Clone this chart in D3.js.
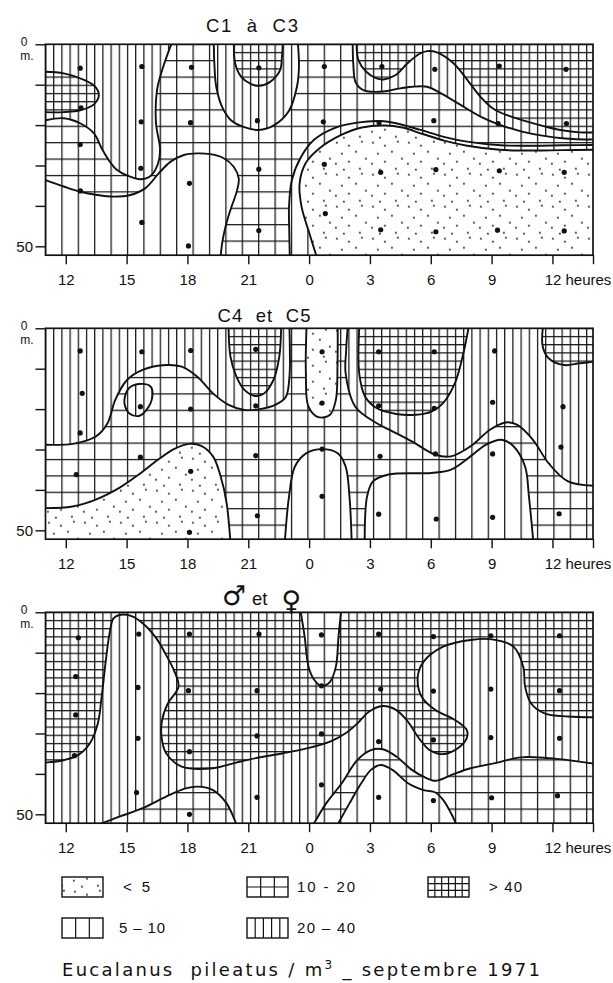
<!DOCTYPE html>
<html>
<head>
<meta charset="utf-8">
<script src="https://cdn.jsdelivr.net/npm/d3@7"></script>
<style>
  html, body { margin: 0; padding: 0; background: #fff; }
  svg { display: block; }
  text { font-family: "Liberation Sans", Arial, sans-serif; fill: #111; }
</style>
</head>
<body>
<svg id="chart" width="613" height="983"></svg>
<script>
// ---- axes -------------------------------------------------------------
// time is counted in continuous hours: 12 = noon, 24 = midnight, 36 = noon next day
const hourTicks  = [12, 15, 18, 21, 24, 27, 30, 33, 36, 38];
const hourLabels = ["12", "15", "18", "21", "0", "3", "6", "9", "12 heures", ""];
const depthTicks = [0, 10, 20, 30, 40, 50];

// ---- density classes (individus / m3) -----------------------------------
// 0: < 5, 1: 5-10, 2: 10-20, 3: 20-40, 4: > 40
const classLabels = ["< 5", "5 – 10", "10 - 20", "20 – 40", "> 40"];
const panelTitles = ["C1  à  C3", "C4  et  C5", "♂ et ♀"];
const chartTitle  = "Eucalanus  pileatus / m";

// ---- sampling points [hour, depth m] ------------------------------------
const samplesC1C3 = [
  [12.71, 5.9], [12.75, 15.7], [12.71, 24.8], [12.72, 36.3],
  [15.75, 5.5], [15.72, 19.2], [15.7, 30.7], [15.75, 44.1],
  [18.2, 5.7], [18.15, 19.4], [18.1, 34.4], [18.05, 49.9],
  [21.52, 5.8], [21.45, 18.9], [21.52, 30.9], [21.52, 46.1],
  [24.75, 5.5], [24.7, 19.2], [24.75, 29.7], [24.8, 41.9],
  [27.59, 5.5], [27.45, 19.4], [27.53, 31.7], [27.53, 45.9],
  [30.2, 6.2], [30.15, 18.9], [30.25, 31.0], [30.25, 46.4],
  [33.38, 5.4], [33.32, 19.6], [33.38, 31.3], [33.29, 46.0],
  [36.67, 6.2], [36.69, 19.6], [36.58, 31.7], [36.58, 46.2]
];
const samplesC4C5 = [
  [12.71, 5.6], [12.81, 16.1], [12.71, 25.9], [12.52, 36.2],
  [15.75, 5.8], [15.68, 19.4], [15.68, 31.9],
  [18.16, 5.5], [18.16, 20.0], [18.16, 35.4], [18.1, 50.5],
  [21.37, 5.2], [21.37, 19.2], [21.37, 31.5], [21.45, 46.4],
  [24.64, 5.8], [24.64, 18.5], [24.64, 29.9], [24.64, 41.6],
  [27.43, 5.8], [27.43, 19.2], [27.5, 31.7], [27.43, 46.0],
  [30.17, 5.8], [30.17, 19.8], [30.23, 31.1], [30.27, 47.2],
  [33.15, 5.6], [33.05, 18.3], [33.05, 31.1], [33.05, 46.8],
  [36.52, 19.4], [36.42, 29.4], [36.33, 45.9]
];
const samplesAdults = [
  [12.62, 6.3], [12.49, 15.9], [12.49, 25.4], [12.43, 35.5],
  [15.6, 5.4], [15.56, 18.6], [15.56, 31.2], [15.49, 44.6],
  [18.1, 5.4], [18.05, 19.4], [18.1, 34.5], [18.1, 50.0],
  [21.53, 5.4], [21.43, 19.4], [21.43, 30.6], [21.43, 45.8],
  [24.61, 5.6], [24.61, 18.2], [24.61, 30.1], [24.61, 42.7],
  [27.43, 5.4], [27.53, 19.0], [27.43, 32.0], [27.43, 45.8],
  [30.13, 6.0], [30.13, 19.5], [30.13, 31.6], [30.13, 46.6],
  [32.96, 5.8], [32.96, 19.0], [32.96, 31.0], [33.0, 45.9],
  [36.35, 5.8], [36.35, 19.4], [36.35, 31.2], [36.25, 45.4]
];

// ---- isolines [hour, depth m] -------------------------------------------
// C1 à C3
const c13Left    = [[11.0,18.8],[11.9,18.3],[12.73,19.6],[13.38,22.0],[13.85,26.5],[14.5,31.0],[15.19,32.8],[15.68,33.4],[16.18,32.6],[16.55,29.5],[16.65,26.0],[16.45,19.6],[16.5,11.3],[16.75,6.4],[17.2,0]];
const c13Pocket  = [[11.0,6.8],[11.9,7.2],[12.9,8.8],[13.45,10.5],[13.63,12.6],[13.4,14.8],[12.75,16.3],[11.9,16.8],[11.0,16.8]];
const c13Low     = [[11.0,33.6],[11.9,35.2],[12.72,36.5],[13.55,37.3],[14.37,37.7],[15.19,37.3],[15.93,35.6],[16.59,31.9],[17.16,29.1],[17.82,27.4],[18.48,27.0],[19.13,27.2],[19.79,28.2],[20.28,30.3],[20.53,33.2],[20.45,36.1],[20.12,41.0],[19.88,45.1],[19.71,49.3],[19.63,53]];
const c13NightU  = [[19.3,0],[19.33,5],[19.42,10.5],[19.72,15.6],[20.15,18.8],[20.73,20.4],[21.51,21.2],[22.28,20.0],[23.0,16.5],[23.4,10.5],[23.5,5.5],[23.45,0]];
const c13NightIn = [[20.29,0],[20.35,4.7],[20.64,8.0],[21.12,9.8],[21.51,10.3],[22.08,9.3],[22.57,6.4],[22.66,3.1],[22.7,0]];
const c13Upper   = [[26.34,0],[26.43,3.9],[26.82,6.8],[27.3,8.4],[27.67,8.7],[28.27,7.6],[28.85,4.7],[29.43,2.4],[29.82,1.7],[30.3,2.0],[31.12,4.7],[31.8,8.8],[32.45,13.0],[33.1,16.0],[33.9,17.8],[34.8,19.2],[35.6,20.3],[36.4,21.2],[37.35,21.8],[38.2,21.8]];
const c13Mid     = [[26.15,0],[26.18,5],[26.3,9.5],[26.7,11.4],[27.67,11.7],[28.5,10.9],[29.82,10.5],[30.48,12.1],[31.47,15.0],[32.45,17.9],[33.44,20.0],[34.5,21.6],[35.5,22.6],[36.6,23.3],[38.2,23.6]];
const c13Outer   = [[23.05,53],[23.02,46],[23.01,40.2],[23.15,33.6],[23.6,27.9],[24.23,23.7],[25.22,20.8],[26.37,19.4],[27.52,19.0],[28.34,19.6],[29.49,21.2],[30.64,22.9],[31.79,24.1],[33.44,25.0],[35.0,25.1],[36.5,25.0],[38.2,24.9]];
const c13Inner   = [[24.4,53],[24.02,46.9],[23.63,40.25],[23.53,34.5],[23.82,29.5],[24.5,25.8],[25.56,22.5],[26.6,20.6],[27.7,20.1],[28.6,20.6],[29.6,22.2],[30.7,23.9],[31.8,25.1],[33.4,26.1],[35.0,26.3],[36.5,26.2],[38.2,26.1]];

// C4 et C5
const c45UpperL  = [[11.0,28.83],[12.33,28.6],[13.48,26.8],[14.06,23.5],[14.44,17.7],[15.02,12.8],[15.79,10.3],[16.95,9.1],[17.72,9.5],[18.49,12.0],[19.26,16.1],[20.03,18.95],[20.8,20.2],[21.57,20.0],[22.33,18.95],[22.85,17.0],[23.03,12],[23.05,5],[23.03,0]];
const c45UpperR  = [[25.9,0],[25.82,6],[25.8,11.1],[26.28,19.4],[27.34,23.5],[28.11,25.5],[29.07,28.0],[30.23,31.3],[31.0,31.7],[31.96,29.2],[32.92,25.1],[33.69,23.3],[34.27,23.9],[35.04,27.6],[35.81,33.4],[36.77,37.9],[38.2,39.0]];
const c45Night   = [[20.03,0],[20.12,7.0],[20.41,11.9],[20.8,15.2],[21.28,16.7],[21.76,16.2],[22.24,12.8],[22.53,7.0],[22.62,0]];
const c45Finger  = [[23.87,0],[23.84,11.1],[23.97,19.4],[24.45,22.0],[25.03,21.4],[25.32,17.7],[25.4,9],[25.41,0]];
const c45Dawn    = [[26.47,0],[26.47,11.1],[26.76,16.9],[27.34,19.8],[28.3,21.2],[29.26,21.4],[30.03,20.6],[30.61,18.5],[31.19,13.6],[31.57,7.0],[31.86,0]];
const c45Noon    = [[35.52,0],[35.52,4.5],[35.81,7.4],[36.58,9.1],[37.35,8.65],[38.2,8.2]];
const c45Loop    = [[14.89,17.7],[15.12,14.8],[15.6,13.8],[16.18,14.4],[16.27,16.9],[15.98,20.2],[15.6,21.7],[15.12,21.0],[14.93,19.4]];
const c45Deep    = [[11.0,44.5],[12.33,44.1],[13.48,42.4],[14.64,39.5],[15.6,36.2],[16.56,32.5],[17.33,29.9],[18.1,28.6],[18.68,29.1],[19.26,31.7],[19.64,36.7],[19.93,43.2],[20.12,53]];
const c45Hump0   = [[22.8,53],[23.01,41.6],[23.3,34.2],[23.87,30.9],[24.64,29.9],[25.41,30.9],[25.8,34.2],[25.99,41.6],[26.1,53]];
const c45Hump9   = [[26.74,53],[26.86,41.6],[27.15,37.9],[27.92,36.2],[30.03,35.8],[31.0,35.0],[31.96,31.7],[32.73,28.8],[33.5,27.6],[34.08,29.2],[34.65,34.2],[34.84,41.6],[35.06,53]];

// mâles et femelles
const adMain     = [[11.0,37.2],[11.94,36.55],[12.62,35.3],[13.19,32.4],[13.58,27.5],[13.77,20.9],[13.96,12.6],[14.16,5.2],[14.35,1.5],[14.64,0.66],[15.21,0.9],[15.79,2.7],[16.46,6.4],[16.95,10.6],[17.33,14.3],[17.56,18.4],[17.04,22.5],[16.75,26.65],[16.72,30.8],[16.95,34.9],[17.72,38.2],[19.26,38.6],[20.41,37.2],[21.37,36.1],[22.72,34.9],[23.87,33.7],[25.03,32.0],[25.8,29.95],[26.38,27.5],[26.95,24.6],[27.63,23.2],[28.3,24.2],[28.88,27.1],[29.36,30.8],[29.94,34.1],[30.51,35.1],[31.19,34.1],[31.77,31.2],[31.77,29.1],[31.19,26.65],[30.23,24.2],[29.55,20.9],[29.36,15.9],[29.65,12.2],[30.61,8.5],[31.96,6.85],[33.02,6.7],[34.08,8.5],[34.56,13.45],[34.65,18.4],[34.94,22.5],[35.61,25.0],[36.77,25.8],[38.2,26.0]];
const adMidnight = [[23.59,0],[23.78,6.0],[23.97,13.45],[24.26,16.75],[24.61,18.2],[25.03,17.2],[25.32,13.45],[25.45,6.0],[25.57,0]];
const adEvening  = [[13.3,53.2],[14.64,50.6],[15.79,48.5],[16.95,45.6],[17.91,43.6],[18.49,43.15],[19.26,44.0],[19.93,47.3],[20.41,52.4],[20.5,53.5]];
const adDawnOut  = [[24.1,53.5],[24.84,47.3],[25.61,42.3],[26.38,36.55],[27.05,34.1],[27.63,33.9],[28.3,35.7],[29.07,39.0],[29.65,40.7],[30.23,41.7],[31.0,40.3],[31.96,38.6],[33.11,37.4],[34.46,35.9],[35.81,36.1],[36.96,36.7],[38.2,37.6]];
const adDawnIn   = [[25.3,53.5],[25.99,47.3],[26.57,42.3],[27.05,39.0],[27.53,37.8],[28.11,39.0],[28.88,42.3],[29.65,44.0],[30.23,44.6],[30.61,46.45],[31.0,49.75],[31.35,53.5]];

// each area: the isoline, its class, and the plot corners that close it
const panels = [
  { title: panelTitles[0], base: 2, samples: samplesC1C3, areas: [
    { pts: c13Left,    cls: 3, corners: ["TL"] },
    { pts: c13Pocket,  cls: 4, corners: [] },
    { pts: c13Low,     cls: 1, corners: ["BL"] },
    { pts: c13NightU,  cls: 3, corners: [] },
    { pts: c13NightIn, cls: 4, corners: [] },
    { pts: c13Mid,     cls: 3, corners: ["TR"] },
    { pts: c13Upper,   cls: 4, corners: ["TR"] },
    { pts: c13Outer,   cls: 1, corners: ["BR"] },
    { pts: c13Inner,   cls: 0, corners: ["BR"] } ] },
  { title: panelTitles[1], base: 2, samples: samplesC4C5, areas: [
    { pts: c45UpperL, cls: 3, corners: ["TL"] },
    { pts: c45UpperR, cls: 3, corners: ["TR"] },
    { pts: c45Night,  cls: 4, corners: [] },
    { pts: c45Finger, cls: 0, corners: [] },
    { pts: c45Dawn,   cls: 4, corners: [] },
    { pts: c45Noon,   cls: 4, corners: ["TR"] },
    { pts: c45Loop,   cls: 3, closed: true },
    { pts: c45Deep,   cls: 0, corners: ["BL"] },
    { pts: c45Hump0,  cls: 1, corners: [] },
    { pts: c45Hump9,  cls: 1, corners: [] } ] },
  { title: panelTitles[2], base: 4, samples: samplesAdults, areas: [
    { pts: adMain,     cls: 3, corners: ["BR", "BL"] },
    { pts: adMidnight, cls: 2, corners: [] },
    { pts: adEvening,  cls: 2, corners: [] },
    { pts: adDawnOut,  cls: 2, corners: ["BR"] },
    { pts: adDawnIn,   cls: 1, corners: [] } ] }
];

// ---- drawing ------------------------------------------------------------
const INK = "#111";
const svg = d3.select("#chart");
const defs = svg.append("defs");

const x = d3.scaleLinear().domain([11, 38]).range([45.5, 593]);
const depthMax = 52.2;
const pxPerMetre = 4.04;
const panelTops = [44.3, 328.3, 612.3];
const titleBaselines = [31.5, 321.5, 605];

const SPARSE = 16.4, DENSE = 8.2, HATCH_W = 1.25;
// fixed dot layout of one stipple tile
const stippleDots = [[4,3],[16,6],[29,2],[9,14],[23,12],[33,19],[3,24],[16,22],[27,29],[11,30]];

function addPatterns(key, top) {
  const ox = x.range()[0] - 0.6, oy = top - 0.6;
  function tile(id, w, h, vertical, horizontal) {
    const p = defs.append("pattern").attr("id", id)
      .attr("patternUnits", "userSpaceOnUse")
      .attr("x", ox).attr("y", oy).attr("width", w).attr("height", h);
    p.append("rect").attr("width", w).attr("height", h).attr("fill", "#fff");
    if (vertical) p.append("line").attr("x1", 0.6).attr("x2", 0.6).attr("y1", 0).attr("y2", h)
      .attr("stroke", INK).attr("stroke-width", HATCH_W);
    if (horizontal) p.append("line").attr("x1", 0).attr("x2", w).attr("y1", 0.6).attr("y2", 0.6)
      .attr("stroke", INK).attr("stroke-width", HATCH_W);
  }
  const st = defs.append("pattern").attr("id", `cls0-${key}`)
    .attr("patternUnits", "userSpaceOnUse").attr("x", ox).attr("y", oy)
    .attr("width", 36).attr("height", 32);
  st.append("rect").attr("width", 36).attr("height", 32).attr("fill", "#fff");
  st.selectAll("circle").data(stippleDots).join("circle")
    .attr("cx", d => d[0]).attr("cy", d => d[1]).attr("r", 0.9).attr("fill", INK);
  tile(`cls1-${key}`, SPARSE, 10, true, false);
  tile(`cls2-${key}`, SPARSE, SPARSE, true, true);
  tile(`cls3-${key}`, DENSE, 10, true, false);
  tile(`cls4-${key}`, DENSE, DENSE, true, true);
}

panels.forEach((panel, i) => {
  const top = panelTops[i];
  const bottom = top + depthMax * pxPerMetre;
  const y = d3.scaleLinear().domain([0, depthMax]).range([top, bottom]);
  addPatterns(i, top);
  const fillOf = c => `url(#cls${c}-${i})`;

  const g = svg.append("g");
  defs.append("clipPath").attr("id", `clip-${i}`).append("rect")
    .attr("x", x(11)).attr("y", top).attr("width", x(38) - x(11)).attr("height", bottom - top);
  const plot = g.append("g").attr("clip-path", `url(#clip-${i})`);

  // background class
  plot.append("rect").attr("x", x(11)).attr("y", top)
    .attr("width", x(38) - x(11)).attr("height", bottom - top).attr("fill", fillOf(panel.base));

  const corners = { TL: [10.3, -3], TR: [38.7, -3], BL: [10.3, 56], BR: [38.7, 56] };
  function outside(p) {
    const dl = Math.abs(x(p[0]) - x(11)), dr = Math.abs(x(p[0]) - x(38));
    const dt = Math.abs(y(p[1]) - y(0)), db = Math.abs(y(p[1]) - y(depthMax));
    const m = Math.min(dl, dr, dt, db);
    if (m === dl) return [10.3, p[1]];
    if (m === dr) return [38.7, p[1]];
    if (m === dt) return [p[0], -3];
    return [p[0], 56];
  }
  const openLine = d3.line().x(p => x(p[0])).y(p => y(p[1])).curve(d3.curveCatmullRom.alpha(0.5));
  const closedLine = d3.line().x(p => x(p[0])).y(p => y(p[1])).curve(d3.curveCatmullRomClosed.alpha(0.5));

  function areaPath(a) {
    if (a.closed) return closedLine(a.pts);
    const ring = [outside(a.pts[a.pts.length - 1]), ...a.corners.map(c => corners[c]), outside(a.pts[0])];
    return openLine(a.pts) + ring.map(p => `L${x(p[0])},${y(p[1])}`).join("") + "Z";
  }

  plot.selectAll("path.area").data(panel.areas).join("path")
    .attr("class", "area").attr("d", areaPath).attr("fill", a => fillOf(a.cls));

  plot.selectAll("path.iso").data(panel.areas).join("path")
    .attr("class", "iso")
    .attr("d", a => a.closed ? closedLine(a.pts) : openLine(a.pts))
    .attr("fill", "none").attr("stroke", INK).attr("stroke-width", 1.9)
    .attr("stroke-linejoin", "round");

  // sampling points
  plot.selectAll("circle.sample").data(panel.samples).join("circle")
    .attr("class", "sample").attr("cx", d => x(d[0])).attr("cy", d => y(d[1]))
    .attr("r", 2.6).attr("fill", INK);

  // frame
  g.append("rect").attr("x", x(11)).attr("y", top)
    .attr("width", x(38) - x(11)).attr("height", bottom - top)
    .attr("fill", "none").attr("stroke", INK).attr("stroke-width", 1.7);

  // depth axis
  const yAxis = g.append("g").attr("transform", `translate(${x(11)},0)`)
    .call(d3.axisLeft(y).tickValues(depthTicks).tickSize(10).tickFormat(""));
  yAxis.select(".domain").remove();
  yAxis.selectAll(".tick line").attr("stroke", INK).attr("stroke-width", 1.4);
  g.append("text").attr("x", 24).attr("y", top + 2).attr("text-anchor", "middle")
    .attr("font-size", 12).text("0");
  g.append("text").attr("x", 27).attr("y", top + 16).attr("text-anchor", "middle")
    .attr("font-size", 12).text("m.");
  g.append("text").attr("x", 33).attr("y", y(50) + 5.2).attr("text-anchor", "end")
    .attr("font-size", 15).text("50");

  // time axis
  const xAxis = g.append("g").attr("transform", `translate(0,${bottom})`)
    .call(d3.axisBottom(x).tickValues(hourTicks).tickSize(9)
      .tickFormat((d, k) => hourLabels[k]));
  xAxis.select(".domain").remove();
  xAxis.selectAll(".tick line").attr("stroke", INK).attr("stroke-width", 1.4);
  xAxis.selectAll(".tick text").attr("y", 30).attr("dy", null)
    .attr("font-size", 15).attr("fill", INK)
    .style("font-family", "\"Liberation Sans\", Arial, sans-serif");
  xAxis.selectAll(".tick text").filter(d => d === 36)
    .attr("text-anchor", "start").attr("x", -8.3);

  // panel title
  if (i < 2) {
    const widths = [92, 93];
    const centres = [252, 264];
    g.append("text").attr("x", centres[i] - widths[i] / 2).attr("y", titleBaselines[i])
      .attr("font-size", 18.5).attr("textLength", widths[i]).attr("lengthAdjust", "spacing")
      .style("white-space", "pre").text(panel.title);
  } else {
    const parts = panel.title.split(" ");
    g.append("text").attr("x", 234).attr("y", 605).attr("text-anchor", "middle")
      .style("font-family", "\"DejaVu Sans\", sans-serif").attr("font-size", 27).text(parts[0]);
    g.append("text").attr("x", 252).attr("y", 605).attr("font-size", 18.5).text(parts[1]);
    g.append("text").attr("x", 291.5).attr("y", 610).attr("text-anchor", "middle")
      .style("font-family", "\"DejaVu Sans\", sans-serif").attr("font-size", 27).text(parts[2]);
  }
});

// ---- legend ---------------------------------------------------------------
const legendCells = [
  { cls: 0, bx: 62,  by: 877, lx: 123, lw: 27 },
  { cls: 2, bx: 247, by: 877, lx: 297, lw: 58 },
  { cls: 4, bx: 428, by: 877, lx: 489, lw: 33 },
  { cls: 1, bx: 62,  by: 918, lx: 119, lw: 46 },
  { cls: 3, bx: 247, by: 918, lx: 297, lw: 58 }
];
const BW = 41, BH = 20;
const leg = svg.append("g");
legendCells.forEach(c => {
  const b = leg.append("g").attr("transform", `translate(${c.bx},${c.by})`);
  b.append("rect").attr("width", BW).attr("height", BH)
    .attr("fill", c.cls === 0 ? "url(#cls0-0)" : "#fff");
  const nv = [0, 3, 3, 5, 6][c.cls];
  const nh = [0, 0, 2, 0, 3][c.cls];
  if (nv) b.selectAll("line.v").data(d3.range(1, nv)).join("line").attr("class", "v")
    .attr("x1", k => k * BW / nv).attr("x2", k => k * BW / nv).attr("y1", 0).attr("y2", BH)
    .attr("stroke", INK).attr("stroke-width", 1.2);
  if (nh) b.selectAll("line.h").data(d3.range(1, nh)).join("line").attr("class", "h")
    .attr("y1", k => k * BH / nh).attr("y2", k => k * BH / nh).attr("x1", 0).attr("x2", BW)
    .attr("stroke", INK).attr("stroke-width", 1.2);
  b.append("rect").attr("width", BW).attr("height", BH)
    .attr("fill", "none").attr("stroke", INK).attr("stroke-width", 1.4);
  leg.append("text").attr("x", c.lx).attr("y", c.by + BH / 2 + 5.4)
    .attr("font-size", 15).attr("textLength", c.lw).attr("lengthAdjust", "spacing")
    .style("white-space", "pre").text(classLabels[c.cls]);
});

// ---- caption ---------------------------------------------------------------
const cap = svg.append("text").attr("x", 62).attr("y", 976).attr("font-size", 18)
  .style("font-family", "\"DejaVu Sans\", sans-serif")
  .attr("textLength", 478).attr("lengthAdjust", "spacing").style("white-space", "pre");
cap.append("tspan").text(chartTitle);
cap.append("tspan").attr("dy", -7).attr("font-size", 12).text("3");
cap.append("tspan").attr("dy", 7).text(" _ septembre 1971");
</script>
</body>
</html>
